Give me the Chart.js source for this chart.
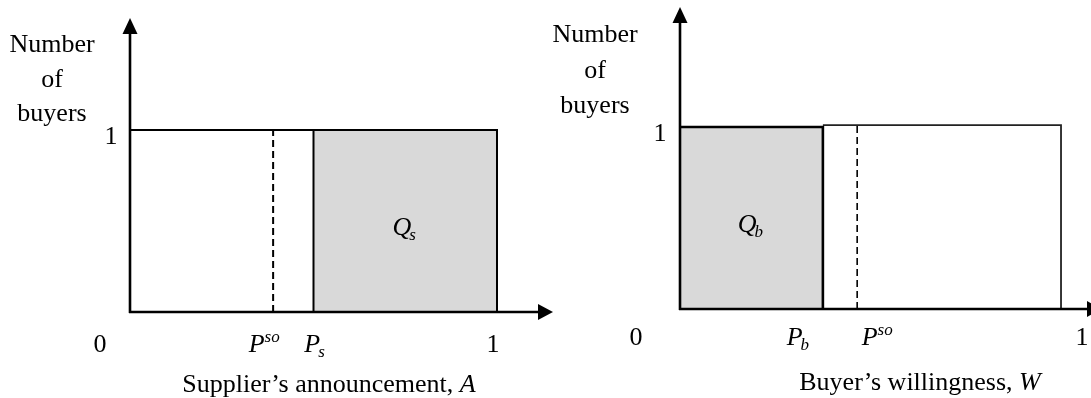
<!DOCTYPE html>
<html>
<head>
<meta charset="utf-8">
<script src="https://cdn.jsdelivr.net/npm/chart.js@4"></script>
<style>
  html, body { margin:0; padding:0; background:#fff; overflow:hidden; }
  canvas { position:absolute; top:0; }
  #left { left:0; }
  #right { left:540px; }
</style>
</head>
<body>
<canvas id="left" width="556" height="398"></canvas>
<canvas id="right" width="551" height="398"></canvas>
<script>
// values (share of the unit interval)
const supplierCuts = [0, 0.39, 0.5, 1];          // 0, P^so, P_s, 1
const supplierTicks = ['0', 'P^so', 'P_s', '1'];
const supplierHeights = [1, 1];                  // white part, shaded part
const buyerCuts = [0, 0.375, 0.465, 1];          // 0, P_b, P^so, 1
const buyerTicks = ['0', 'P_b', 'P^so', '1'];
const buyerHeights = [1, 1.01];                  // shaded part, white part
const yTickValues = [1];
const yTickLabels = ['1'];
const areaLabels = ['Q_s', 'Q_b'];
const yTitle = ['Number', 'of', 'buyers'];
const xTitles = [['Supplier’s announcement, ', 'A'], ['Buyer’s willingness, ', 'W']];

const FONT = '"Liberation Serif", "Times New Roman", serif';
const GREY = '#d9d9d9';

// text like P^so, P_s, Q_b : italic letter + small script part
function drawRich(ctx, str, cx, cy){
  let base = str, small = '', mode = '';
  if(str.includes('^')){ [base, small] = str.split('^'); mode = 'sup'; }
  else if(str.includes('_')){ [base, small] = str.split('_'); mode = 'sub'; }
  const ital = /[A-Za-z]/.test(base) ? 'italic ' : '';
  ctx.font = ital + '26px ' + FONT;
  const w1 = ctx.measureText(base).width;
  ctx.font = 'italic 17px ' + FONT;
  const w2 = small ? ctx.measureText(small).width : 0;
  let x = cx - (w1 + w2) / 2;
  ctx.textAlign = 'left';
  ctx.textBaseline = 'alphabetic';
  ctx.font = ital + '26px ' + FONT;
  ctx.fillText(base, x, cy + 9);
  if(small){
    ctx.font = 'italic 17px ' + FONT;
    ctx.fillText(small, x + w1 - (mode == 'sup' ? 0 : 2), cy + (mode == 'sup' ? -1 : 14));
  }
}

const diagram = {
  id: 'diagram',
  afterDraw(chart, args, o){
    const {ctx, chartArea:a, scales:{x, y}} = chart;
    const x0 = x.getPixelForValue(0), y0 = y.getPixelForValue(0);
    ctx.save();
    ctx.fillStyle = '#000'; ctx.strokeStyle = '#000'; ctx.lineWidth = 2.6;
    // axes with arrow heads
    const tipX = a.right + o.tipExtra;
    ctx.beginPath(); ctx.moveTo(x0 - 1, y0); ctx.lineTo(tipX - 12, y0); ctx.stroke();
    ctx.beginPath(); ctx.moveTo(tipX, y0); ctx.lineTo(tipX - 15, y0 - 8); ctx.lineTo(tipX - 15, y0 + 8); ctx.closePath(); ctx.fill();
    ctx.beginPath(); ctx.moveTo(x0, y0 + 1); ctx.lineTo(x0, a.top + 12); ctx.stroke();
    ctx.beginPath(); ctx.moveTo(x0, a.top); ctx.lineTo(x0 - 7.5, a.top + 16); ctx.lineTo(x0 + 7.5, a.top + 16); ctx.closePath(); ctx.fill();

    // x tick labels
    o.tickValues.forEach((v, i) => {
      drawRich(ctx, o.tickLabels[i], x.getPixelForValue(v) + o.tickNudge[i], o.tickY);
    });
    // y tick labels
    yTickValues.forEach((v, i) => {
      ctx.font = '26px ' + FONT; ctx.textAlign = 'center'; ctx.textBaseline = 'alphabetic';
      ctx.fillText(yTickLabels[i], x0 + o.yTickDx, y.getPixelForValue(v) + 14);
    });
    // area label
    drawRich(ctx, o.area, x.getPixelForValue(o.areaAt[0]), y.getPixelForValue(o.areaAt[1]) + 5);

    // y axis title
    ctx.font = '26px ' + FONT; ctx.textAlign = 'center'; ctx.textBaseline = 'alphabetic';
    yTitle.forEach((t, i) => ctx.fillText(t, o.yTitleX, o.yTitleY[i]));
    // x axis title with italic variable
    const [txt, v] = o.xTitle;
    ctx.font = '26px ' + FONT; const w1 = ctx.measureText(txt).width;
    ctx.font = 'italic 26px ' + FONT; const w2 = ctx.measureText(v).width;
    ctx.textAlign = 'left';
    ctx.font = '26px ' + FONT; ctx.fillText(txt, o.xTitleX - (w1 + w2) / 2, o.xTitleY);
    ctx.font = 'italic 26px ' + FONT; ctx.fillText(v, o.xTitleX - (w1 + w2) / 2 + w1, o.xTitleY);
    ctx.restore();
  }
};

function seg(points, extra){
  return Object.assign({data: points, showLine: true, pointRadius: 0, borderColor: '#000',
    borderWidth: 2, fill: false, clip: false, order: 1, tension: 0}, extra || {});
}

// left panel: supplier's announcement
const [sZero, sSo, sP, sOne] = supplierCuts;
new Chart(document.getElementById('left'), {
  type: 'scatter',
  data: { datasets: [
    seg([{x:sP, y:supplierHeights[1]}, {x:sOne, y:supplierHeights[1]}],
        {fill:'origin', backgroundColor:GREY, borderWidth:0, order:3}),
    seg([{x:sZero, y:supplierHeights[0]}, {x:sP, y:supplierHeights[0]}, {x:sOne, y:supplierHeights[1]}, {x:sOne, y:0}]),
    seg([{x:sP, y:0}, {x:sP, y:supplierHeights[1]}]),
    seg([{x:sSo, y:0}, {x:sSo, y:supplierHeights[0]}], {borderDash:[7,4]})
  ]},
  options: {
    responsive:false, animation:false, devicePixelRatio:1,
    layout:{padding:{left:130, right:3, top:18, bottom:86}},
    scales:{
      x:{type:'linear', min:0, max:1.1526, display:false},
      y:{type:'linear', min:0, max:1.615, display:false}
    },
    plugins:{legend:{display:false}, tooltip:{enabled:false},
      diagram:{tipExtra:0, tickValues:supplierCuts, tickLabels:supplierTicks, tickNudge:[-30,-9,2,-4],
        tickY:343, yTickDx:-19, area:areaLabels[0], areaAt:[(sP + sOne) / 2, 0.5],
        yTitleX:52, yTitleY:[52,87,121], xTitle:xTitles[0], xTitleX:329, xTitleY:392}}
  },
  plugins:[diagram]
});

// right panel: buyer's willingness
const [bZero, bP, bSo, bOne] = buyerCuts;
new Chart(document.getElementById('right'), {
  type: 'scatter',
  data: { datasets: [
    seg([{x:bZero, y:buyerHeights[0]}, {x:bP, y:buyerHeights[0]}],
        {fill:'origin', backgroundColor:GREY, borderWidth:0, order:3}),
    seg([{x:bZero, y:buyerHeights[0]}, {x:bP, y:buyerHeights[0]}, {x:bP, y:0}], {borderWidth:2.6}),
    seg([{x:bP, y:buyerHeights[1]}, {x:bOne, y:buyerHeights[1]}, {x:bOne, y:0}], {borderColor:'#222', borderWidth:1.8}),
    seg([{x:bSo, y:0}, {x:bSo, y:buyerHeights[1]}], {borderDash:[7,4], borderWidth:1.6})
  ]},
  options: {
    responsive:false, animation:false, devicePixelRatio:1,
    layout:{padding:{left:140, right:0, top:7, bottom:89}},
    scales:{
      x:{type:'linear', min:0, max:1.0787, display:false},
      y:{type:'linear', min:0, max:1.659, display:false}
    },
    plugins:{legend:{display:false}, tooltip:{enabled:false},
      diagram:{tipExtra:11, tickValues:buyerCuts, tickLabels:buyerTicks, tickNudge:[-44,-24,20,21],
        tickY:336, yTickDx:-20, area:areaLabels[1], areaAt:[(bZero + bP) / 2, 0.5],
        yTitleX:55, yTitleY:[42,78,113], xTitle:xTitles[1], xTitleX:380, xTitleY:390}}
  },
  plugins:[diagram]
});
</script>
</body>
</html>
